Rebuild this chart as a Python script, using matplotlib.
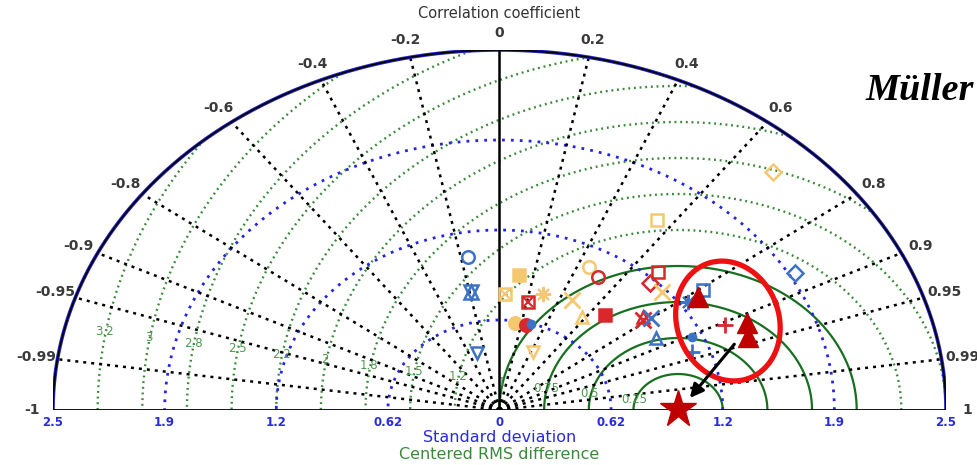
import numpy as np
import matplotlib.pyplot as plt
from matplotlib.patches import Polygon

plt.rcParams['font.family'] = ['DejaVu Sans']

# reference standard deviation (observations)
ref_std = 1.0

std_ticks = [0.625, 1.25, 1.875, 2.5]
corr_ticks = [0.2, 0.4, 0.6, 0.8, 0.9, 0.95, 0.99]
rms_levels = [0.25, 0.5, 0.75, 1.0, 1.25, 1.5, 1.75, 2.0, 2.25, 2.5, 2.75, 3.0, 3.25]

# model statistics: normalised std and correlation
model_std = [1.077, 0.835, 0.416, 0.944, 0.806, 0.767, 0.842, 0.610, 0.609, 0.444,
             1.112, 1.076, 0.865, 0.794, 0.886, 1.306, 1.220, 1.224, 1.018, 1.030,
             1.062, 1.009, 1.295, 1.411, 1.191, 1.151, 1.394, 1.909, 2.253, 1.587,
             0.625]
model_corr = [-0.163, -0.191, -0.303, 0.116, 0.038, 0.208, 0.289, 0.142, 0.244, 0.422,
              0.451, 0.513, 0.469, 0.582, 0.667, 0.679, 0.691, 0.743, 0.789, 0.780,
              0.799, 0.868, 0.815, 0.807, 0.905, 0.937, 0.906, 0.867, 0.680, 0.556,
              0.280]
# marker, colour, filled
model_style = [('o', 'b', 0), ('hex', 'b', 0), ('v', 'b', 0), ('s', 'y', 1), ('sx', 'y', 0),
               ('sx', 'r', 0), ('ast', 'y', 0), ('o', 'y', 1), ('o', 'r', 1), ('v', 'y', 0),
               ('o', 'y', 0), ('o', 'r', 0), ('x', 'y', 0), ('^', 'y', 0), ('s', 'r', 1),
               ('s', 'r', 0), ('D', 'r', 0), ('x', 'y', 0), ('x', 'r', 0), ('^', 'r', 0),
               ('x', 'b', 0), ('^', 'b', 0), ('ast', 'b', 0), ('s', 'b', 0), ('dot', 'b', 1),
               ('+', 'b', 0), ('+', 'r', 0), ('D', 'b', 0), ('D', 'y', 0), ('s', 'y', 0),
               ('dot', 'b', 1)]

# highlighted runs
hl_std = [1.360, 1.512, 1.481]
hl_corr = [0.817, 0.917, 0.940]

colors = {'b': '#3d72c4', 'r': '#d8282c', 'y': '#f5c870'}


def to_xy(s, r):
    s = np.asarray(s, dtype=float)
    r = np.asarray(r, dtype=float)
    return s * r, s * np.sqrt(1 - r ** 2)


fig = plt.figure(figsize=(9.78, 4.65), dpi=100)
ax = fig.add_axes([53 / 978, 55 / 465, 893 / 978, 360 / 465])
ax.set_xlim(-2.5, 2.5)
ax.set_ylim(0, 2.5)
ax.axis('off')
sx, sy = 893 / 5.0, 360 / 2.5   # pixels per unit

rmax = std_ticks[-1]
th = np.linspace(0, np.pi, 600)
clip = Polygon(np.column_stack([rmax * np.cos(th), rmax * np.sin(th)]), closed=True,
               fill=False, edgecolor='none')
ax.add_patch(clip)

# centered RMS circles
for lev in rms_levels:
    cx = ref_std + lev * np.cos(th)
    cy = lev * np.sin(th)
    if lev <= 1.0:
        ln, = ax.plot(cx, cy, color='#17701f', lw=1.6, zorder=2)
    else:
        ln, = ax.plot(cx, cy, color='#3b8a3b', lw=1.7, ls=(0, (0.8, 1.6)), zorder=2)
    ln.set_clip_path(clip)
    a = np.deg2rad(171)
    ax.text(ref_std + lev * np.cos(a), lev * np.sin(a) + 0.035, '%.2g' % lev,
            color='#4f9a4f', fontsize=8.5, ha='center', va='center', zorder=3)

# standard deviation arcs
for s in std_ticks[:-1]:
    ax.plot(s * np.cos(th), s * np.sin(th), color='#2424e6', lw=2,
            ls=(0, (1, 2.2)), zorder=2)
ax.plot(rmax * np.cos(th), rmax * np.sin(th), color='#2424c8', lw=2.6, zorder=3)
ax.plot(rmax * np.cos(th), rmax * np.sin(th), color='black', lw=1.2, zorder=3)

# correlation rays
for c in corr_ticks:
    for sgn in (1, -1):
        ex, ey = to_xy(rmax, sgn * c)
        ax.plot([0, ex], [0, ey], color='black', lw=1.8, ls=(0, (1.2, 2)), zorder=2)
ax.plot([0, 0], [0, rmax], color='black', lw=1.8, zorder=3)
ax.plot([-rmax, rmax], [0, 0], color='black', lw=2, zorder=3)

# correlation labels
for c in [-1.0] + [-v for v in corr_ticks] + [0.0] + corr_ticks + [1.0]:
    lx, ly = to_xy(2.62, c)
    txt = '0' if c == 0 else ('%g' % c)
    ax.text(lx, ly, txt, fontsize=10, color='#3a3a3a', fontweight='bold',
            ha='center', va='center', clip_on=False)

# std labels on both sides
for s in [0] + std_ticks:
    for sgn in ((1, -1) if s else (1,)):
        ax.text(sgn * s, -0.09, '%.2g' % s, color='#2a2ae0', fontsize=8.5,
                fontweight='bold', ha='center', va='center', clip_on=False)

ax.text(0, 2.75, 'Correlation coefficient', fontsize=10.5, color='#333333',
        ha='center', va='center', clip_on=False)
ax.text(0, -0.19, 'Standard deviation', fontsize=11.5, color='#2a2ae0',
        ha='center', va='center', clip_on=False)
ax.text(0, -0.31, 'Centered RMS difference', fontsize=11.5, color='#3a8a3a',
        ha='center', va='center', clip_on=False)

# model markers
mx, my = to_xy(model_std, model_corr)
for x, y, (m, c, f) in zip(mx, my, model_style):
    col = colors[c]
    kw = dict(ls='none', zorder=5, clip_on=False)
    if m == 'hex':
        ax.plot(x, y, marker='^', ms=10, mfc='none', mec=col, mew=1.8, **kw)
        ax.plot(x, y, marker='v', ms=10, mfc='none', mec=col, mew=1.8, **kw)
    elif m == 'sx':
        ax.plot(x, y, marker='s', ms=9, mfc='none', mec=col, mew=1.8, **kw)
        ax.plot(x, y, marker='x', ms=7, mec=col, mew=1.5, **kw)
    elif m == 'ast':
        ax.plot(x, y, marker=(8, 2, 0), ms=11, mec=col, mew=1.5, **kw)
    elif m in ('x', '+'):
        ax.plot(x, y, marker=m, ms=11, mec=col, mew=2, **kw)
    elif m == 'dot':
        ax.plot(x, y, marker='o', ms=6, color=col, **kw)
    else:
        ms = 9 if m != 'D' else 8
        ax.plot(x, y, marker=m, ms=ms, mfc=col if f else 'none', mec=col,
                mew=1.8, **kw)

hx, hy = to_xy(hl_std, hl_corr)
ax.plot(hx, hy, ls='none', marker='^', ms=14, color='#c00000', zorder=6)

# reference point
ax.plot(ref_std, 0.01, marker='*', ms=28, color='#c00000', ls='none', zorder=7,
        clip_on=False)

# highlight ellipse around the three runs, shaped in pixel units
t = np.linspace(0, 2 * np.pi, 300)
a_px, b_px, phi = 61.0, 51.0, np.deg2rad(20)
dx_px = b_px * np.cos(t) * np.cos(phi) - a_px * np.sin(t) * np.sin(phi)
dy_px = b_px * np.cos(t) * np.sin(phi) + a_px * np.sin(t) * np.cos(phi)
ax.plot(1.279 + dx_px / sx, 0.618 + dy_px / sy, color='#ee1111', lw=3.8,
        zorder=8, clip_on=False)

ax.annotate('', xy=(1.056, 0.069), xytext=(1.325, 0.472),
            arrowprops=dict(arrowstyle='-|>', color='black', lw=2.2, mutation_scale=20),
            zorder=9)

fig.text(866 / 978, 1 - 90 / 465, 'Müller', fontfamily='Liberation Serif',
         fontweight='bold', fontstyle='italic', fontsize=27.5, va='center')

fig.savefig('out.png', dpi=100)
